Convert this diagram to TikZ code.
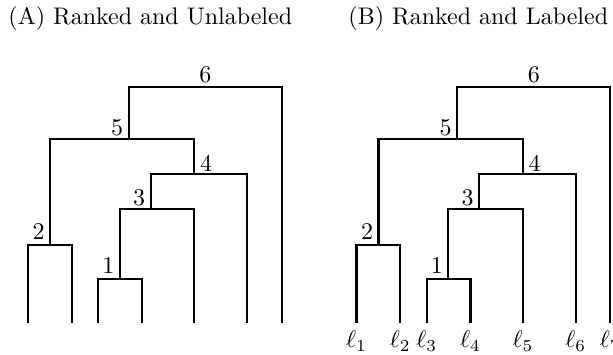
\documentclass[tikz,border=0pt]{standalone}
\begin{document}
\begin{tikzpicture}[x=0.4167pt,y=-0.4167pt,
  branch/.style={line width=0.85pt, line join=miter, line cap=butt},
  ranklab/.style={inner sep=0pt, font=\normalsize},
  leaflab/.style={anchor=north, inner sep=3.33pt},
  titlelab/.style={anchor=base, inner sep=0pt}]
\clip (0,0) rectangle (613,354);
\node[titlelab] (titleA) at (150.3,24.5) {(A) Ranked and Unlabeled};
\node[titlelab] (titleB) at (478.3,24.5) {(B) Ranked and Labeled};
\foreach \t/\dx in {A/0,B/328.5}{
  \begin{scope}[xshift=\dx*0.4167pt]
    \coordinate (\t-L1) at (28,322.7);
    \coordinate (\t-L2) at (71.8,322.7);
    \coordinate (\t-L3) at (98.2,322.7);
    \coordinate (\t-L4) at (142,322.7);
    \coordinate (\t-L5) at (194.4,322.7);
    \coordinate (\t-L6) at (247.2,322.7);
    \coordinate (\t-L7) at (281.8,322.7);
    \coordinate (\t-n1) at (119.8,279.3);
    \coordinate (\t-n2) at (50,244.7);
    \coordinate (\t-n3) at (150.7,209.3);
    \coordinate (\t-n4) at (194.4,174);
    \coordinate (\t-n5) at (128.7,139.3);
    \coordinate (\t-n6) at (205.3,87);
    \draw[branch] (\t-L3) |- (\t-n1) -| (\t-L4);
    \draw[branch] (\t-L1) |- (\t-n2) -| (\t-L2);
    \draw[branch] (\t-n1) |- (\t-n3) -| (\t-L5);
    \draw[branch] (\t-n3) |- (\t-n4) -| (\t-L6);
    \draw[branch] (\t-n2) |- (\t-n5) -| (\t-n4);
    \draw[branch] (\t-n5) |- (\t-n6) -| (\t-L7);
    \path (\t-n1) ++(-11.5,-13.5) node[ranklab] (\t-k1) {1};
    \path (\t-n2) ++(-11.5,-13.5) node[ranklab] (\t-k2) {2};
    \path (\t-n3) ++(-11.7,-11.5) node[ranklab] (\t-k3) {3};
    \path (\t-n4) ++(11.7,-11) node[ranklab] (\t-k4) {4};
    \path (\t-n5) ++(-11.7,-12) node[ranklab] (\t-k5) {5};
    \path (\t-n6) ++(0,-12) node[ranklab] (\t-k6) {6};
  \end{scope}
}
\node[leaflab] (lab1) at (B-L1) {$\ell_1$};
\node[leaflab] (lab2) at (B-L2) {$\ell_2$};
\node[leaflab] (lab3) at (B-L3) {$\ell_3$};
\node[leaflab] (lab4) at (B-L4) {$\ell_4$};
\node[leaflab] (lab5) at (B-L5) {$\ell_5$};
\node[leaflab] (lab6) at (B-L6) {$\ell_6$};
\node[leaflab] (lab7) at (B-L7) {$\ell_7$};
\end{tikzpicture}
\end{document}
